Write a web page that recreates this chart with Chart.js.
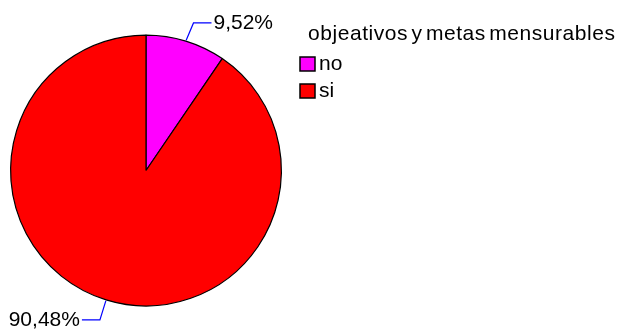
<!DOCTYPE html>
<html>
<head>
<meta charset="utf-8">
<script src="https://cdn.jsdelivr.net/npm/chart.js@4.4.1/dist/chart.umd.min.js"></script>
<style>
  html, body { margin: 0; padding: 0; background: #fff; }
  #myChart { display: block; }
</style>
</head>
<body>
<canvas id="myChart" width="621" height="333"></canvas>
<script>
const categorias = ['no', 'si'];
const valores = [9.52, 90.48];
const colores = ['#FF00FF', '#FF0000'];
const titulo = 'objeativos y metas mensurables';

const fuente = '"Liberation Sans", Arial, sans-serif';

// etiquetas con linea guia y leyenda dibujadas a mano
const etiquetas = {
    id: 'etiquetas',
    afterDraw(chart) {
        const ctx = chart.ctx;
        const arcos = chart.getDatasetMeta(0).data;
        ctx.save();
        ctx.font = '21px ' + fuente;
        ctx.textBaseline = 'middle';
        arcos.forEach((arco, i) => {
            const mid = (arco.startAngle + arco.endAngle) / 2;
            const cos = Math.cos(mid), sin = Math.sin(mid);
            const r = arco.outerRadius;
            const largo = sin > 0 ? 21 : 19;
            const x0 = arco.x + cos * (r + 1), y0 = arco.y + sin * (r + 1);
            const x1 = arco.x + cos * (r + largo) + (cos >= 0 ? 2 : 0), y1 = arco.y + sin * (r + largo);
            const lado = cos >= 0 ? 1 : -1;
            const x2 = x1 + lado * 18;
            ctx.strokeStyle = '#0000FF';
            ctx.lineWidth = 1.2;
            ctx.beginPath();
            ctx.moveTo(x0, y0);
            ctx.lineTo(x1, y1);
            ctx.lineTo(x2, y1);
            ctx.stroke();
            ctx.fillStyle = '#000';
            ctx.textAlign = lado > 0 ? 'left' : 'right';
            const txt = valores[i].toFixed(2).replace('.', ',') + '%';
            ctx.fillText(txt, x2 + lado * 2, y1);
        });

        // leyenda
        ctx.textAlign = 'left';
        ctx.fillStyle = '#000';
        ctx.letterSpacing = '0.55px';
        ctx.wordSpacing = '-3px';
        ctx.fillText(titulo, 308, 34);
        ctx.letterSpacing = '0px';
        ctx.wordSpacing = '0px';
        categorias.forEach((cat, i) => {
            const y = 64 + i * 27;
            ctx.fillStyle = colores[i];
            ctx.fillRect(300, y - 7, 15, 14);
            ctx.strokeStyle = '#000';
            ctx.lineWidth = 1.5;
            ctx.strokeRect(300, y - 7, 15, 14);
            ctx.fillStyle = '#000';
            ctx.fillText(cat, 319, y);
        });
        ctx.restore();
    }
};

const chart = document.getElementById('myChart').getContext('2d');
const myChart = new Chart(chart, {
    type: 'pie',
    data: {
        labels: categorias,
        datasets: [{
            data: valores,
            backgroundColor: colores,
            borderColor: '#000',
            borderWidth: 1.2
        }]
    },
    options: {
        responsive: false,
        animation: false,
        events: [],
        layout: { padding: { left: 10, top: 33, right: 339, bottom: 25 } },
        plugins: {
            legend: { display: false },
            tooltip: { enabled: false },
            title: { display: false }
        }
    },
    plugins: [etiquetas]
});
</script>
</body>
</html>
